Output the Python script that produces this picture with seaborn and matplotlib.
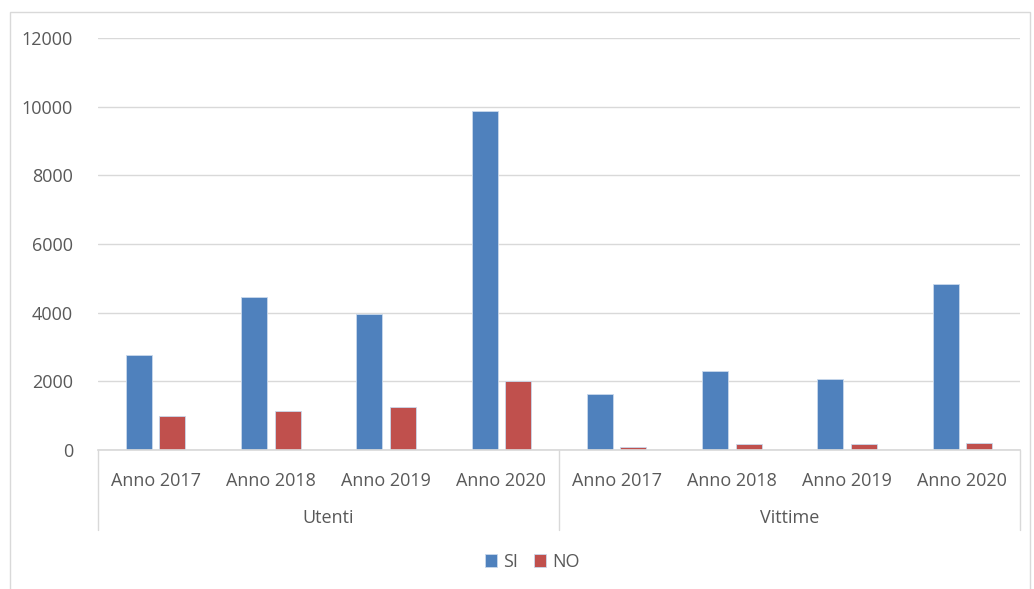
import pandas as pd
import matplotlib.pyplot as plt
import matplotlib.patches as patches
import seaborn as sns

# Values
groups = ['Utenti', 'Vittime']
years = ['Anno 2017', 'Anno 2018', 'Anno 2019', 'Anno 2020']
si_values = [2760, 4460, 3960, 9860, 1630, 2310, 2080, 4840]
no_values = [1000, 1140, 1260, 2020, 100, 165, 165, 190]
series = ['SI', 'NO']
colors = ['#4F81BD', '#C0504D']

sns.set_theme(style="white")
plt.rcParams['font.family'] = ['Open Sans', 'DejaVu Sans']
text_color = '#595959'

# long format table: one row per bar
cats = [f'{g}|{y}' for g in groups for y in years]
df = pd.DataFrame({
    'cat': cats * 2,
    'serie': ['SI'] * len(cats) + ['NO'] * len(cats),
    'value': si_values + no_values,
})

fig = plt.figure(figsize=(10.34, 5.89), dpi=100)
ax = fig.add_axes([98 / 1034, 1 - 450 / 589, (1020 - 98) / 1034, (450 - 38) / 589])

sns.barplot(data=df, x='cat', y='value', hue='serie', order=cats, hue_order=series,
            palette=colors, saturation=1, width=0.58, gap=0.22, ax=ax, legend=True,
            edgecolor='#C9D9EC', linewidth=0.6)

ax.set_ylim(0, 12000)
ax.set_yticks(range(0, 12001, 2000))
ax.set_xlim(-0.5, len(cats) - 0.5)
ax.yaxis.grid(True, color='#D9D9D9', linewidth=1)
ax.set_axisbelow(True)
for s in ['top', 'right', 'left']:
    ax.spines[s].set_visible(False)
ax.spines['bottom'].set_color('#D9D9D9')
ax.set_xlabel('')
ax.set_ylabel('')

ax.set_xticks(range(len(cats)))
ax.set_xticklabels(years * len(groups))
ax.tick_params(axis='x', length=0, pad=16, labelsize=13, labelcolor=text_color)
ax.tick_params(axis='y', length=0, pad=18, labelsize=13, labelcolor=text_color)

# multi-level category axis: separators and group labels
sep_depth = -80 / 412
for xs in [-0.5, 3.5, 7.5]:
    ax.plot([xs, xs], [0, sep_depth], transform=ax.get_xaxis_transform(),
            color='#D9D9D9', linewidth=1, clip_on=False)
for i, g in enumerate(groups):
    ax.text(i * len(years) + (len(years) - 1) / 2, -68 / 412, g,
            transform=ax.get_xaxis_transform(), ha='center', va='center',
            fontsize=13, color=text_color)

# legend at bottom
handles, labels = ax.get_legend_handles_labels()
ax.get_legend().remove()
fig.legend(handles, labels, loc='center', bbox_to_anchor=(532 / 1034, 1 - 562 / 589),
           ncol=2, frameon=False, fontsize=13, handlelength=0.7, handleheight=0.7,
           handletextpad=0.3, columnspacing=0.9, labelcolor=text_color)

# outer chart border
fig.patches.append(patches.Rectangle((10 / 1034, -0.01), 1020 / 1034, 1 - 12 / 589 + 0.01,
                                     transform=fig.transFigure, fill=False,
                                     edgecolor='#D9D9D9', linewidth=1))

fig.savefig('out.png', dpi=100)
